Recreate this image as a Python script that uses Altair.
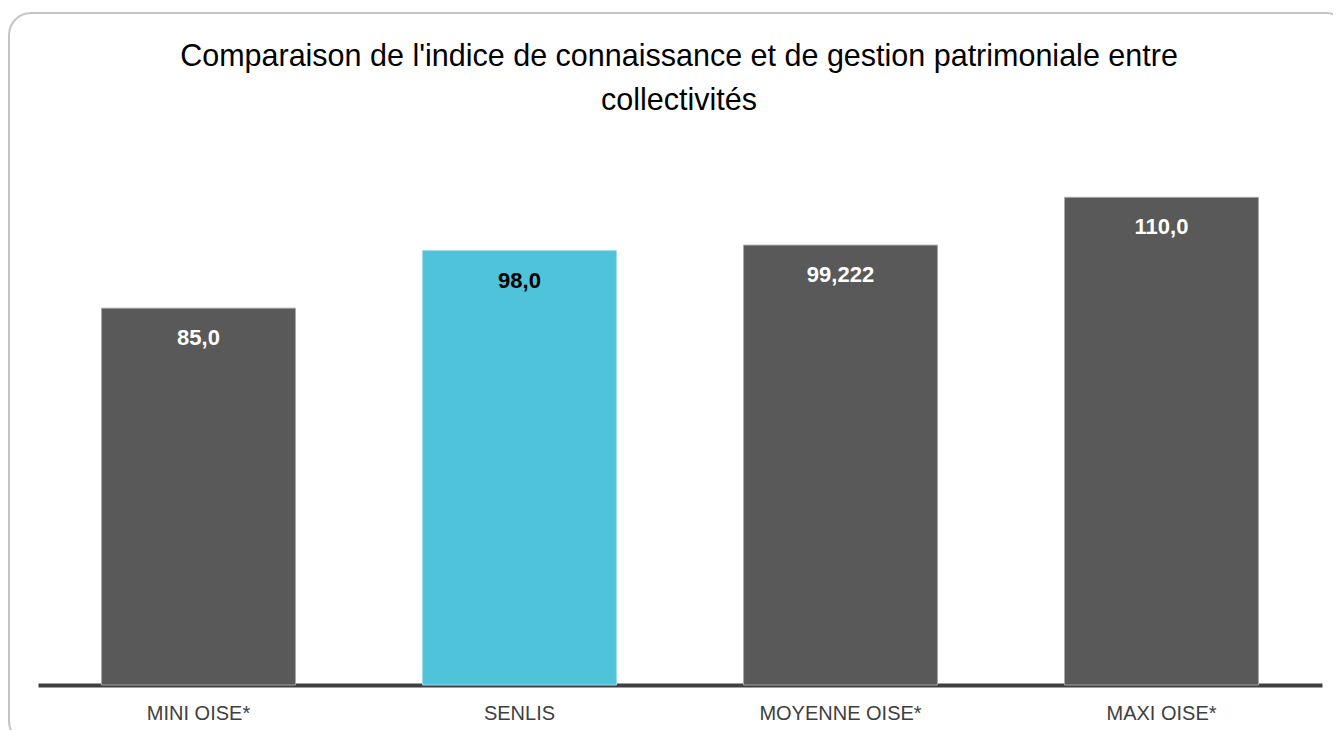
import altair as alt
import pandas as pd

categories = ["MINI OISE*", "SENLIS", "MOYENNE OISE*", "MAXI OISE*"]
values = [85.0, 98.0, 99.222, 110.0]
labels = ["85,0", "98,0", "99,222", "110,0"]
highlight = [False, True, False, False]
title_lines = ["Comparaison de l'indice de connaissance et de gestion patrimoniale entre",
               "collectivités"]

df = pd.DataFrame({"cat": categories, "val": values, "lab": labels, "hl": highlight})

FONT = "Liberation Sans"
W, H = 1284, 532

xenc = alt.X("cat:N", sort=categories,
             scale=alt.Scale(paddingInner=0.396, paddingOuter=0.198),
             axis=alt.Axis(title=None, labelAngle=0, ticks=False, labelFont=FONT,
                           labelFontSize=20, labelColor="#404040", labelPadding=18,
                           domainColor="#404040", domainWidth=4))
yenc = alt.Y("val:Q", scale=alt.Scale(domain=[0, 120], nice=False, zero=True), axis=None)

base = alt.Chart(df)

bars = base.mark_bar(strokeWidth=1).encode(
    x=xenc, y=yenc,
    color=alt.Color("hl:N", scale=alt.Scale(domain=[False, True], range=["#595959", "#4fc3da"]), legend=None),
    stroke=alt.Stroke("hl:N", scale=alt.Scale(domain=[False, True], range=["#a6a6a6", "#9fdcea"]), legend=None),
)

text = base.mark_text(font=FONT, fontSize=22, fontWeight="bold", baseline="alphabetic", dy=37).encode(
    x=alt.X("cat:N", sort=categories), y="val:Q", text="lab:N",
    color=alt.Color("hl:N", scale=alt.Scale(domain=[False, True], range=["#ffffff", "#000000"]), legend=None),
)

one = alt.Data(values=[{"a": 1}])
frame = alt.Chart(one).mark_rect(fill=None, stroke="#c4c4c4", strokeWidth=2, cornerRadius=22).encode(
    x=alt.value(-29), x2=alt.value(1310), y=alt.value(-140), y2=alt.value(590))

t1 = alt.Chart(alt.Data(values=[{"t": title_lines[0]}])).mark_text(
    font=FONT, fontSize=30.5, color="#000000", align="center", baseline="alphabetic").encode(
    x=alt.value(641), y=alt.value(-87), text="t:N")
t2 = alt.Chart(alt.Data(values=[{"t": title_lines[1]}])).mark_text(
    font=FONT, fontSize=30.5, color="#000000", align="center", baseline="alphabetic").encode(
    x=alt.value(641), y=alt.value(-43), text="t:N")

chart = alt.layer(frame, bars, text, t1, t2).resolve_scale(color="independent").properties(
    width=W, height=H,
    autosize=alt.AutoSizeParams(type="none"),
    padding={"left": 30, "top": 145, "right": 11, "bottom": 45},
    background="#ffffff",
).configure_view(stroke=None)

chart.save("out.html", embed_options={"renderer": "svg", "actions": False})
